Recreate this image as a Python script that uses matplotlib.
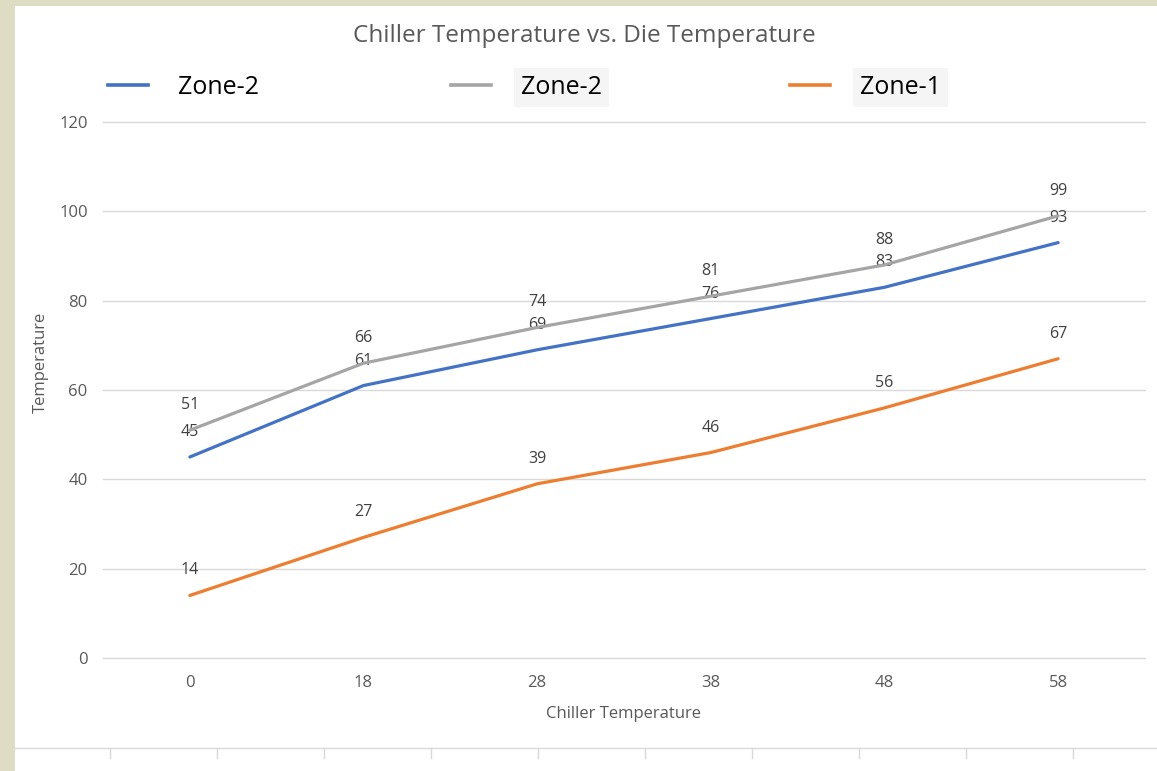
import matplotlib.pyplot as plt
from matplotlib.lines import Line2D
from matplotlib.patches import Rectangle

# data
chiller_temp = ["0", "18", "28", "38", "48", "58"]
zone2_blue = [45, 61, 69, 76, 83, 93]
zone2_grey = [51, 66, 74, 81, 88, 99]
zone1_orange = [14, 27, 39, 46, 56, 67]
y_ticks = [0, 20, 40, 60, 80, 100, 120]

W, H = 1157, 771
plt.rcParams['font.family'] = ['Open Sans', 'DejaVu Sans']

fig = plt.figure(figsize=(W / 100, H / 100), dpi=100, facecolor='#dedcc2')
# white card on the beige background
fig.patches.append(Rectangle((15 / W, 0), 1 - 15 / W, 1 - 6 / H,
                             transform=fig.transFigure, facecolor='white',
                             edgecolor='none', zorder=-5))

ax = fig.add_axes([103 / W, 1 - 658 / H, (1145 - 103) / W, (658 - 122) / H])
ax.set_facecolor('none')

x = list(range(len(chiller_temp)))
series = [
    (zone2_blue, '#4472c4', 'Zone-2'),
    (zone2_grey, '#a5a5a5', 'Zone-2'),
    (zone1_orange, '#ed7d31', 'Zone-1'),
]
for vals, col, lab in series:
    ax.plot(x, vals, color=col, lw=2.3, solid_capstyle='round', zorder=3)
    for xi, v in zip(x, vals):
        ax.annotate(str(v), (xi, v), xytext=(0, 18), textcoords='offset points',
                    ha='center', va='center', fontsize=11.5, color='#404040')

ax.set_xlim(-0.5, len(x) - 0.5)
ax.set_ylim(0, 120)
ax.set_yticks(y_ticks)
ax.set_xticks(x)
ax.set_xticklabels(chiller_temp)
ax.grid(axis='y', color='#d9d9d9', lw=1)
for gl in ax.get_ygridlines():
    gl.set_clip_on(False)
ax.set_axisbelow(True)
for s in ax.spines.values():
    s.set_visible(False)
ax.tick_params(length=0, labelsize=12, labelcolor='#595959')
ax.tick_params(axis='y', pad=11)
ax.tick_params(axis='x', pad=12)
ax.set_xlabel('Chiller Temperature', fontsize=12, color='#595959', va='center')
ax.xaxis.set_label_coords(0.5, -(714 - 658) / (658 - 122))
ax.set_ylabel('Temperature', fontsize=12, color='#595959', va='center')
ax.yaxis.set_label_coords(-(103 - 41) / (1145 - 103), (658 - 362) / (658 - 122))

fig.text(584 / W, 1 - 36 / H, 'Chiller Temperature vs. Die Temperature',
         ha='center', va='center', fontsize=17.5, color='#595959')

# legend, three entries spread across the top
legend_x = [108, 451, 790]
for (vals, col, lab), lx in zip(series, legend_x):
    leg = fig.legend([Line2D([], [], color=col, lw=2.6)], [lab],
                     loc='center left', bbox_to_anchor=(lx / W, 1 - 87 / H),
                     frameon=False, fontsize=18, handlelength=1.6,
                     handletextpad=1.2, borderpad=0, borderaxespad=0)
    if col != '#4472c4':
        leg.get_texts()[0].set_bbox(dict(facecolor='#f5f5f5', edgecolor='none', pad=5))

# remnant of the next chart's axis at the bottom
fig.add_artist(Line2D([15 / W, 1], [1 - 748 / H] * 2, color='#d9d9d9', lw=1))
for tx in range(110, 1157, 107):
    fig.add_artist(Line2D([tx / W] * 2, [1 - 748 / H, 1 - 758 / H], color='#d9d9d9', lw=1))

fig.savefig('out.png', dpi=100, facecolor=fig.get_facecolor())
